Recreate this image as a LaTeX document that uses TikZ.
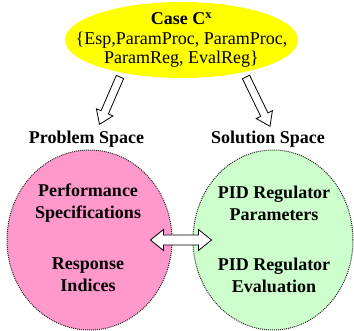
\documentclass[tikz,border=0pt]{standalone}
\usepackage{fontspec}
\setmainfont{Liberation Serif}
\usepackage{xcolor}
\usepackage{tikz}
\usetikzlibrary{arrows.meta,positioning,shapes.geometric,calc}
\definecolor{caseyellow}{RGB}{255,255,0}
\definecolor{probpink}{RGB}{255,153,204}
\definecolor{solgreen}{RGB}{204,255,204}

% hollow block arrow from #1 to #2 (half shaft, half head, head length)
\newcommand{\hollowarrow}[5]{%
  \draw[hollow] ($(#1)!#3!90:(#2)$)
    -- ($($(#2)!#5!(#1)$)!#3!-90:(#1)$) -- ($($(#2)!#5!(#1)$)!#4!-90:(#1)$)
    -- (#2)
    -- ($($(#2)!#5!(#1)$)!#4!90:(#1)$) -- ($($(#2)!#5!(#1)$)!#3!90:(#1)$)
    -- ($(#1)!#3!-90:(#2)$) -- cycle;}
% same, with a head at both ends
\newcommand{\hollowdblarrow}[5]{%
  \draw[hollow] (#1)
    -- ($($(#1)!#5!(#2)$)!#4!90:(#2)$) -- ($($(#1)!#5!(#2)$)!#3!90:(#2)$)
    -- ($($(#2)!#5!(#1)$)!#3!-90:(#1)$) -- ($($(#2)!#5!(#1)$)!#4!-90:(#1)$)
    -- (#2)
    -- ($($(#2)!#5!(#1)$)!#4!90:(#1)$) -- ($($(#2)!#5!(#1)$)!#3!90:(#1)$)
    -- ($($(#1)!#5!(#2)$)!#3!-90:(#2)$) -- ($($(#1)!#5!(#2)$)!#4!-90:(#2)$)
    -- cycle;}

\begin{document}
\begin{tikzpicture}[x=1pt,y=-1pt,>=Latex, every node/.style={font=\fontsize{18}{19.5}\selectfont}]
\tikzstyle{blob}=[ellipse, inner sep=0pt]
\tikzstyle{space}=[blob, draw=black!85, line width=1pt, dash pattern=on 1pt off 1pt]
\tikzstyle{lbl}=[font=\fontsize{18}{22}\selectfont\bfseries, align=center]
\tikzstyle{hollow}=[draw=black, fill=white, line width=0.8pt, line join=miter]
\useasboundingbox (0,0) rectangle (354,331);
% case on top
\node[blob, fill=caseyellow, minimum width=233pt, minimum height=76pt] (caseblob) at (181.5,40) {};
\node[align=center] (case) at (181.5,40) {\textbf{Case C\textsuperscript{x}}\\\{Esp,ParamProc, ParamProc,\\ParamReg, EvalReg\}};
% the two spaces
\node[space, fill=probpink, minimum width=165pt, minimum height=180pt] (pspace) at (89.5,240) {};
\node[space, fill=solgreen, minimum width=160pt, minimum height=180pt] (sspace) at (273,240) {};
\node[lbl] (plbl) at (86.5,139) {Problem Space};
\node[lbl] (slbl) at (268,139) {Solution Space};
\node[lbl] (perf) at (88,203) {Performance\\Specifications};
\node[lbl] (resp) at (88,275) {Response\\Indices};
\node[lbl] (pidpar) at (274,203) {PID Regulator\\Parameters};
\node[lbl] (pideval) at (274,275) {PID Regulator\\Evaluation};
% block arrows
\coordinate (ptail) at (120,77);
\coordinate (stail) at (246,77);
\coordinate (ptip) at ([xshift=13pt,yshift=3pt]plbl.north);
\coordinate (stip) at ([xshift=2pt,yshift=1pt]slbl.north);
\coordinate (lhead) at ([xshift=-22pt]pspace.east);
\coordinate (rhead) at ([xshift=19pt]sspace.west);
\hollowarrow{ptail}{ptip}{4pt}{9pt}{13pt}
\hollowarrow{stail}{stip}{4pt}{9pt}{13pt}
\hollowdblarrow{lhead}{rhead}{5pt}{10.5pt}{13pt}
\end{tikzpicture}
\end{document}
